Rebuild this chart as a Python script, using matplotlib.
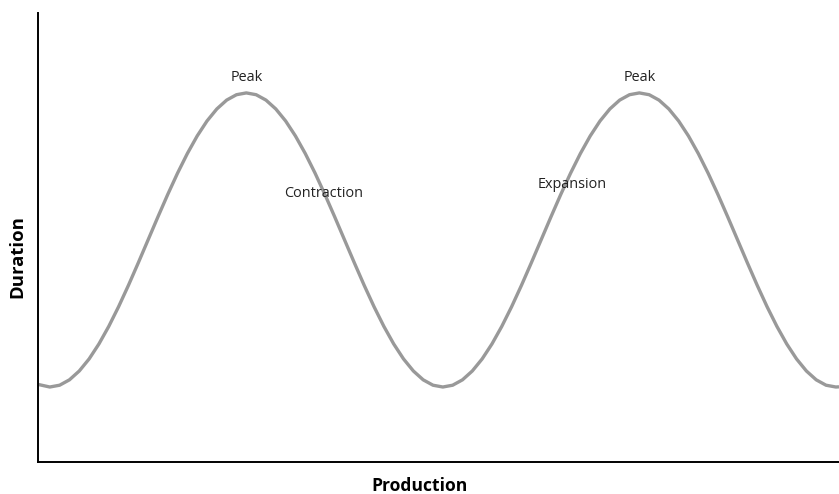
import matplotlib
matplotlib.use("Agg")
import matplotlib.pyplot as plt

plt.rcParams["font.family"] = ["Open Sans", "DejaVu Sans"]

# business cycle curve (x: production, y: duration)
CYCLE_X = [0.00, 0.30, 0.55, 0.80, 1.05, 1.30, 1.55, 1.80, 2.05, 2.30, 2.55,
           2.80, 3.05, 3.30, 3.55, 3.80, 4.05, 4.30, 4.55, 4.80, 5.05,
           5.30, 5.55, 5.80, 6.05, 6.30, 6.55, 6.80, 7.05, 7.30, 7.55,
           7.80, 8.05, 8.30, 8.55, 8.80, 9.05, 9.30, 9.55, 9.80, 10.05,
           10.30, 10.55, 10.80, 11.05, 11.30, 11.55, 11.80, 12.05, 12.30, 12.55,
           12.80, 13.05, 13.30, 13.55, 13.80, 14.05, 14.30, 14.55, 14.80, 15.05,
           15.30, 15.55, 15.80, 16.05, 16.30, 16.55, 16.80, 17.05, 17.30, 17.55,
           17.80, 18.05, 18.30, 18.55, 18.80, 19.05, 19.30, 19.55, 19.80, 20.05,
           20.30, 20.38]
CYCLE_Y = [17.28, 16.70, 17.10, 18.30, 20.27, 22.95, 26.29, 30.20, 34.58, 39.33, 44.33,
           49.45, 54.57, 59.57, 64.32, 68.70, 72.61, 75.95, 78.63, 80.60, 81.80,
           82.20, 81.80, 80.60, 78.63, 75.95, 72.61, 68.70, 64.32, 59.57, 54.57,
           49.45, 44.33, 39.33, 34.58, 30.20, 26.29, 22.95, 20.27, 18.30, 17.10,
           16.70, 17.10, 18.30, 20.27, 22.95, 26.29, 30.20, 34.58, 39.33, 44.33,
           49.45, 54.57, 59.57, 64.32, 68.70, 72.61, 75.95, 78.63, 80.60, 81.80,
           82.20, 81.80, 80.60, 78.63, 75.95, 72.61, 68.70, 64.32, 59.57, 54.57,
           49.45, 44.33, 39.33, 34.58, 30.20, 26.29, 22.95, 20.27, 18.30, 17.10,
           16.70, 16.74]

# annotations: (text, x, y, horizontal alignment)
LABELS = [("Peak", 5.30, 85.7, "center"),
          ("Peak", 15.32, 85.7, "center"),
          ("Contraction", 6.26, 59.9, "left"),
          ("Expansion", 12.72, 61.9, "left")]

fig = plt.figure(figsize=(8.39, 4.94), dpi=100)
ax = fig.add_axes([0.0453, 0.0648, 0.9547, 0.9089])

ax.plot(CYCLE_X, CYCLE_Y, color="#999999", linewidth=2.4, solid_capstyle="butt")

for text, x, y, ha in LABELS:
    ax.text(x, y, text, ha=ha, va="center", fontsize=10.4, color="#222222")

ax.set_xlim(0, 20.38)
ax.set_ylim(0, 100)
ax.set_xticks([])
ax.set_yticks([])
for side in ("top", "right"):
    ax.spines[side].set_visible(False)
for side in ("left", "bottom"):
    ax.spines[side].set_linewidth(1.4)
    ax.spines[side].set_color("black")

fig.text(419.5 / 839, 1 - 491 / 494, "Production", ha="center", va="baseline",
         fontsize=12.6, fontweight="bold")
fig.text(17.5 / 839, 1 - 257 / 494, "Duration", ha="center", va="center",
         rotation=90, fontsize=13.3, fontweight="bold")

fig.savefig("out.png", dpi=100)
